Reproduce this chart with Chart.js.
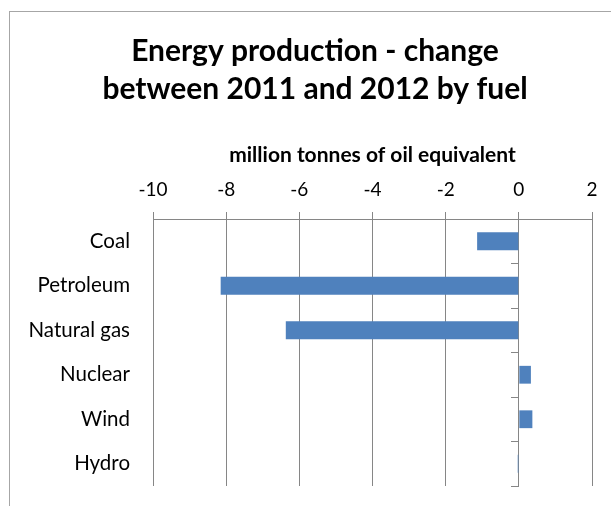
<!DOCTYPE html>
<html>
<head>
<meta charset="utf-8">
<script src="https://cdn.jsdelivr.net/npm/chart.js@4.4.1/dist/chart.umd.min.js"></script>
<style>
  html, body { margin: 0; padding: 0; overflow: hidden; background: #fff; }
  #frame { position: absolute; left: 9px; top: 11px; width: 634px; height: 520px; border: 1px solid #a6a6a6; }
  #frame canvas { display: block; }
</style>
</head>
<body>
<div id="frame"><canvas id="chart" width="634" height="494"></canvas></div>
<script>
const fuels = ["Coal", "Petroleum", "Natural gas", "Nuclear", "Wind", "Hydro"];
const change = [-1.14, -8.15, -6.37, 0.33, 0.37, -0.03];
const titleLines = ["Energy production - change", "between 2011 and 2012 by fuel"];
const axisTitle = "million tonnes of oil equivalent";
const xMin = -10;
const xMax = 2;
const xStep = 2;

const font = "Lato";
const lineColor = "#868686";

// the chart title sits a little left of the plot centre, so draw it by hand
const titlePlugin = {
    id: "twoLineTitle",
    afterDraw(chart) {
        const ctx = chart.ctx;
        ctx.save();
        ctx.fillStyle = "#000";
        ctx.font = "bold 30px " + font;
        ctx.textAlign = "center";
        ctx.textBaseline = "middle";
        titleLines.forEach((line, i) => ctx.fillText(line, 305, 39 + i * 38));
        ctx.restore();
    }
};

const context = document.getElementById("chart").getContext("2d");
const chart = new Chart(context, {
    type: "bar",
    data: {
        labels: fuels,
        datasets: [{
            data: change,
            backgroundColor: "#4f81bd",
            borderWidth: 0,
            categoryPercentage: 1,
            barPercentage: 0.4,
            yAxisID: "y"
        }]
    },
    options: {
        indexAxis: "y",
        responsive: false,
        animation: false,
        layout: { padding: { top: 96, right: 52, bottom: 20, left: 0 } },
        plugins: {
            legend: { display: false },
            tooltip: { enabled: false },
            title: { display: false }
        },
        scales: {
            x: {
                position: "top",
                min: xMin,
                max: xMax,
                ticks: { stepSize: xStep, color: "#000", font: { family: font, size: 19 }, padding: 11 },
                grid: { color: lineColor, tickLength: 7 },
                border: { display: true, color: lineColor },
                title: {
                    display: true,
                    text: axisTitle,
                    color: "#000",
                    font: { family: font, size: 21, weight: "bold" },
                    padding: { top: 35, bottom: 0 }
                },
                afterFit(scale) { scale.height = 111; }
            },
            y: {
                position: { x: 0 },
                ticks: { display: false },
                grid: { drawOnChartArea: false, color: lineColor, tickLength: 7, offset: true },
                border: { display: true, color: lineColor }
            },
            labels: {
                type: "category",
                position: "left",
                labels: fuels,
                ticks: { color: "#000", font: { family: font, size: 20.5 }, padding: 23 },
                grid: { display: false, drawTicks: false },
                border: { display: false },
                afterFit(scale) {
                    scale.width = 143;
                    scale.paddingTop = 0;
                    scale.paddingBottom = 0;
                }
            }
        }
    },
    plugins: [titlePlugin]
});
</script>
</body>
</html>
